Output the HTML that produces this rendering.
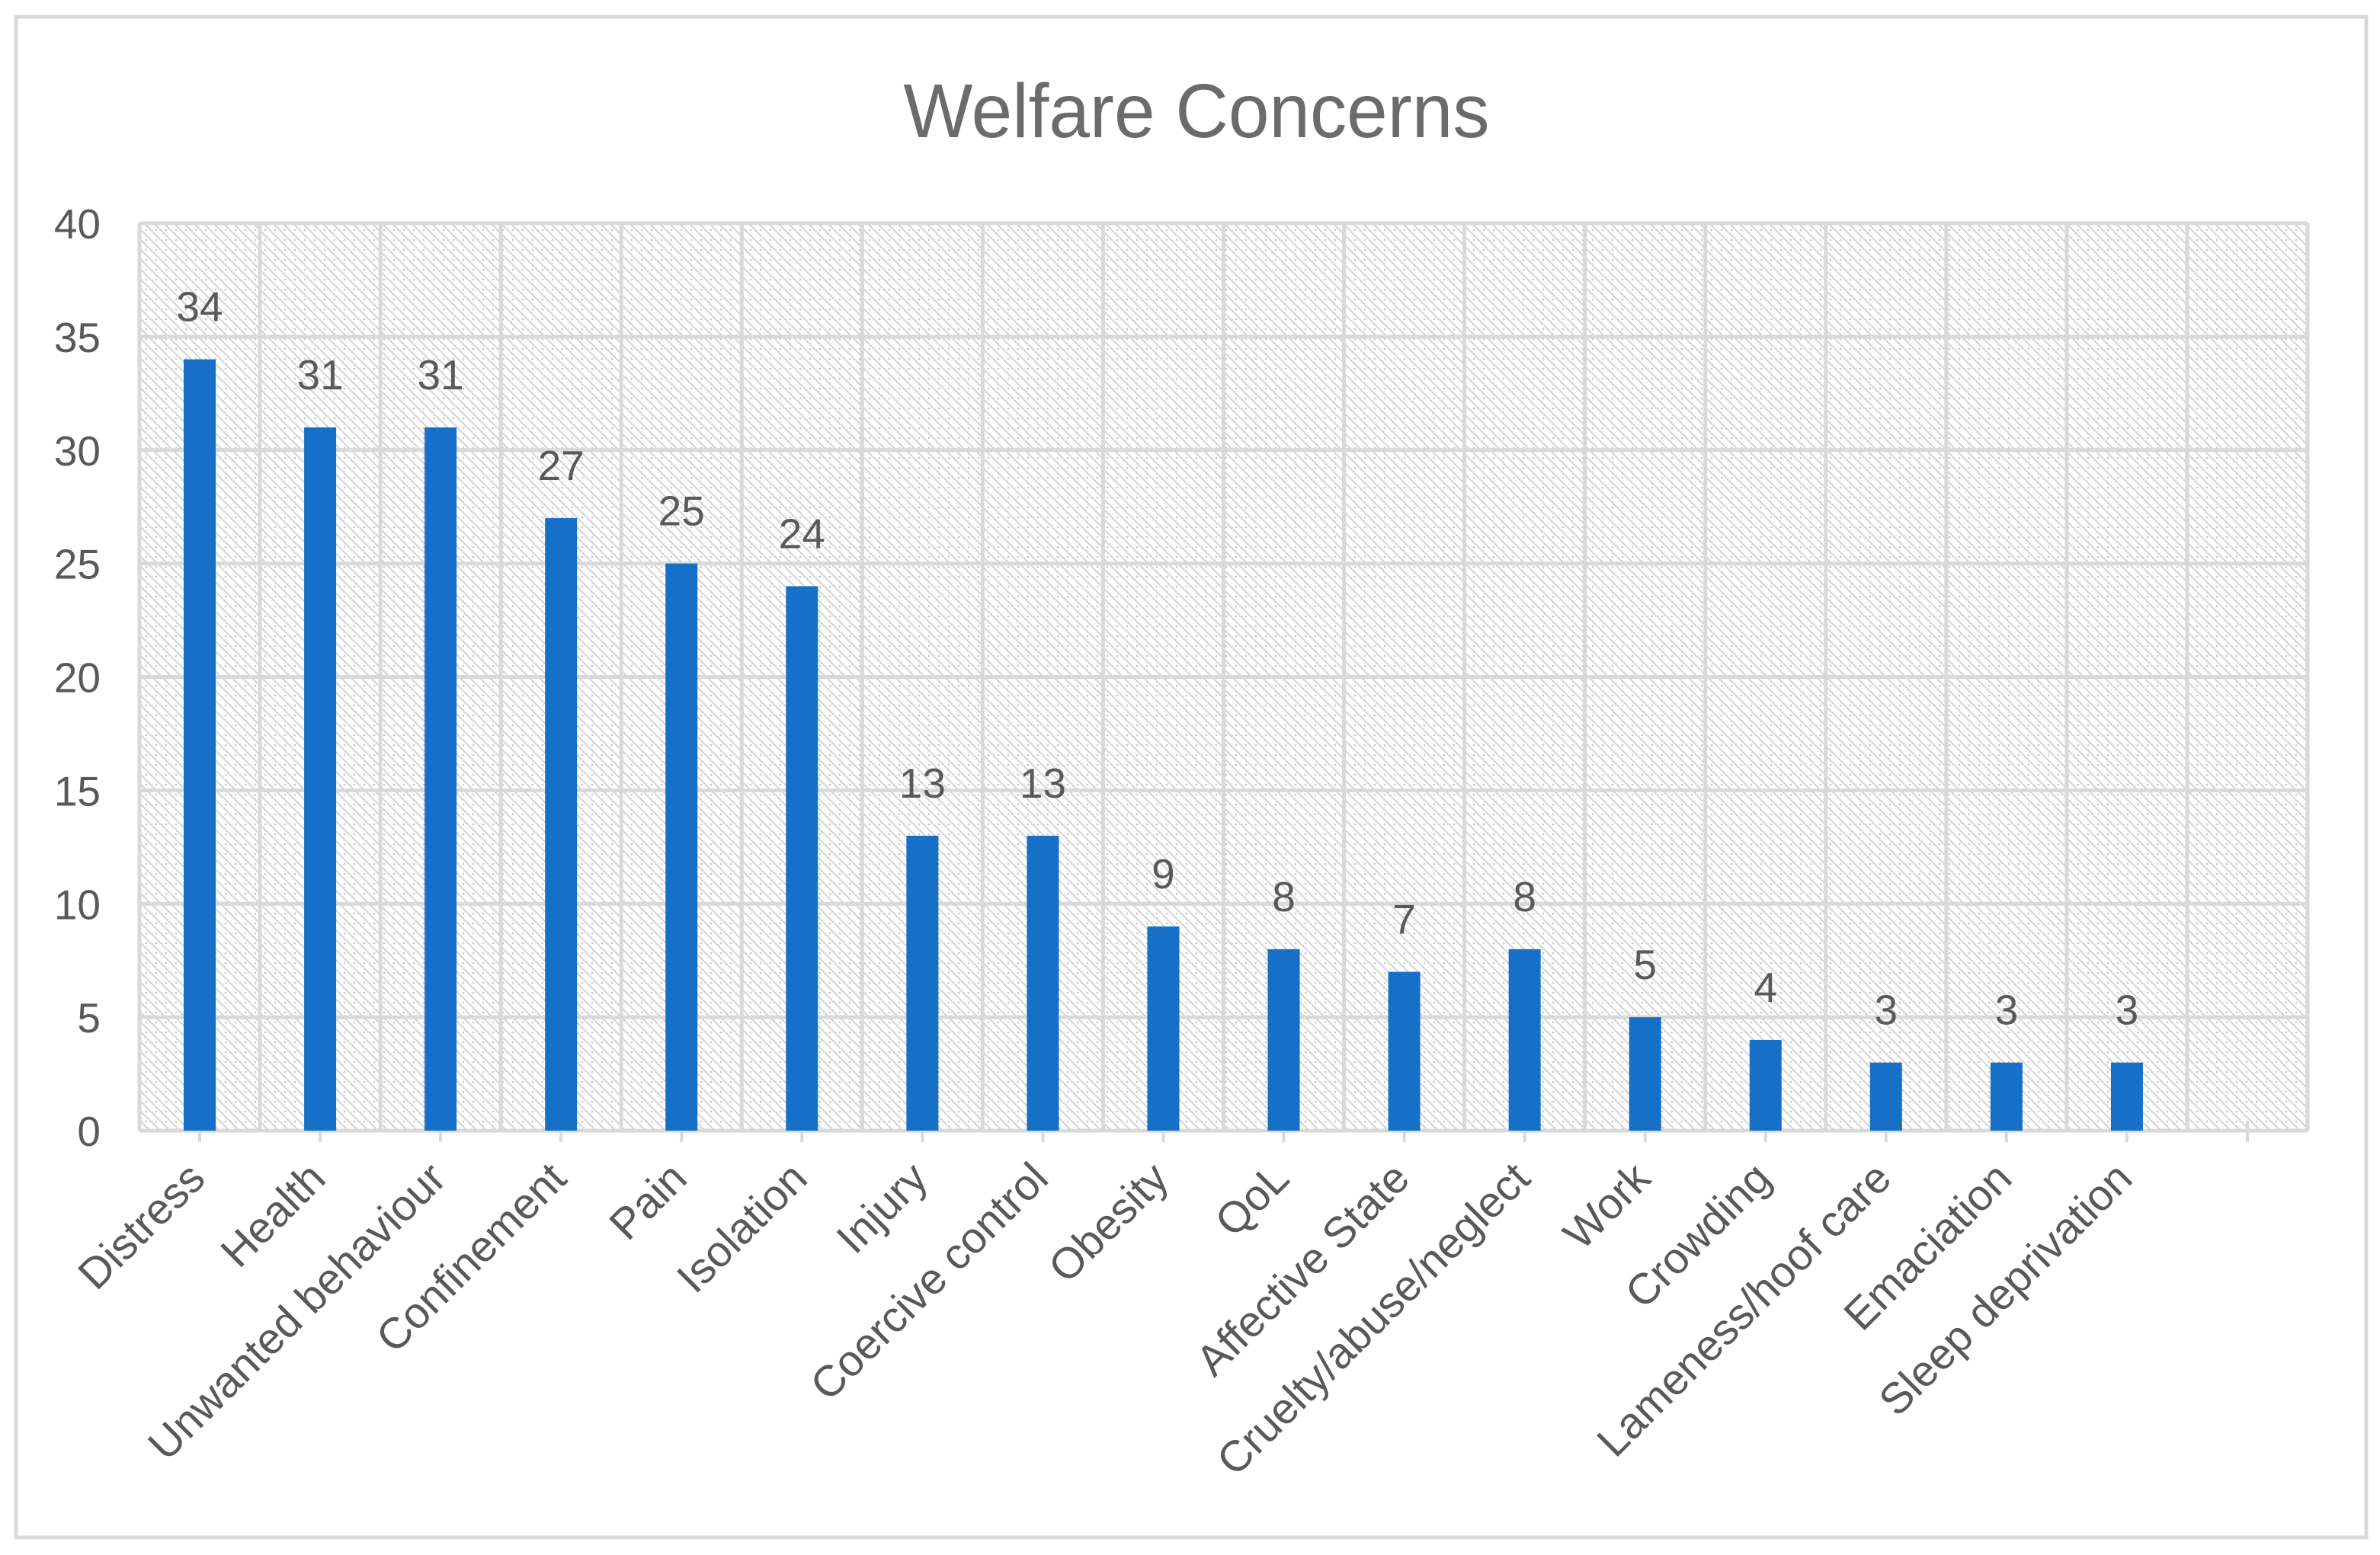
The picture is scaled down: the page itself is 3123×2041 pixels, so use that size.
<!DOCTYPE html>
<html><head><meta charset="utf-8"><style>
html,body{margin:0;padding:0;background:#fff}
svg{display:block}
text{font-family:"Liberation Sans",sans-serif;fill:#595959}
</style></head><body>
<svg id="chart" width="3123" height="2041" viewBox="0 0 3123 2041" xmlns="http://www.w3.org/2000/svg">
<defs>
<pattern id="hatch" patternUnits="userSpaceOnUse" width="13" height="13">
<rect width="13" height="13" fill="#ffffff"/>
<path d="M-3,-3 L16,16 M-3,10 L3,16 M10,-3 L16,3" stroke="#d6d6d6" stroke-width="2.2"/>
<circle cx="10" cy="3" r="1.3" fill="#c8c8c8"/>
</pattern>
</defs>
<rect x="21" y="22" width="3084" height="1996" fill="#fff" stroke="#d9d9d9" stroke-width="5"/>
<text x="1570" y="180" text-anchor="middle" font-size="100" textLength="769" lengthAdjust="spacingAndGlyphs" style="fill:#6b6b6b">Welfare Concerns</text>
<rect x="183" y="293" width="2845" height="1191" fill="url(#hatch)"/>
<g id="grid"></g>
<g id="bars"></g>
<g id="labels"></g>
</svg>
<script>
const categories = ["Distress","Health","Unwanted behaviour","Confinement","Pain","Isolation","Injury","Coercive control","Obesity","QoL","Affective State","Cruelty/abuse/neglect","Work","Crowding","Lameness/hoof care","Emaciation","Sleep deprivation",""];
const values = [34,31,31,27,25,24,13,13,9,8,7,8,5,4,3,3,3,null];
const yTicks = [0,5,10,15,20,25,30,35,40];

const NS = "http://www.w3.org/2000/svg";
const L = 183, R = 3028, T = 293, B = 1484, YMAX = 40;
const slot = (R - L) / categories.length;
const y = v => B - (v / YMAX) * (B - T);
const xc = i => L + slot * (i + 0.5);
const grid = document.getElementById('grid');
const bars = document.getElementById('bars');
const labels = document.getElementById('labels');
function mk(tag, attrs, parent) {
  const e = document.createElementNS(NS, tag);
  for (const k in attrs) e.setAttribute(k, attrs[k]);
  parent.appendChild(e);
  return e;
}
yTicks.forEach(t => {
  const ln = mk('line', {x1: L, x2: R, y1: y(t), y2: y(t), stroke: '#d9d9d9', 'stroke-width': 5}, grid);
  
  
  const tx = mk('text', {x: 132, y: y(t) + 20, 'text-anchor': 'end', 'font-size': 55}, labels);
  tx.textContent = t;
  
  
});
for (let i = 0; i <= categories.length; i++) {
  const ln = mk('line', {x1: L + slot * i, x2: L + slot * i, y1: T, y2: B, stroke: '#d9d9d9', 'stroke-width': 5}, grid);
  
  
}
categories.forEach((c, i) => {
  const tk = mk('line', {x1: xc(i), x2: xc(i), y1: B - 12, y2: B + 15, stroke: '#d9d9d9', 'stroke-width': 4}, grid);
  
  
  const v = values[i];
  if (v !== null && v !== undefined) {
    const r = mk('rect', {x: xc(i) - 21, y: y(v), width: 42, height: B - y(v), fill: '#1770c7'}, bars);
    
    
    const vl = mk('text', {x: xc(i), y: y(v) - 50, 'text-anchor': 'middle', 'font-size': 55}, labels);
    vl.textContent = v;
    
    
  }
  if (c) {
    const xl = mk('text', {x: 0, y: 0, 'text-anchor': 'end', 'font-size': 57, transform: 'translate(' + (xc(i) + 10) + ',' + (B + 66) + ') rotate(-45)'}, labels);
    xl.textContent = c;
    
    
  }
});
mk('line', {x1: L, x2: R, y1: B, y2: B, stroke: '#d9d9d9', 'stroke-width': 5}, grid);
</script>
</body></html>
